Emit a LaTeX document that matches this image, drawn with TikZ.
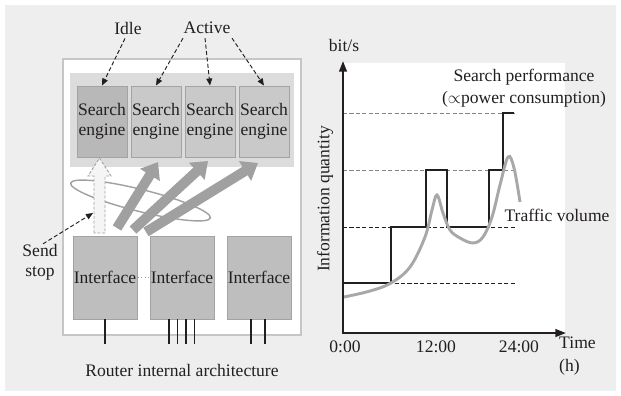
\documentclass[tikz,border=0pt]{standalone}
\usepackage{fontspec}
\setmainfont{Liberation Serif}
\usetikzlibrary{arrows.meta,calc}
\definecolor{panel}{HTML}{EEEEEE}
\definecolor{ink}{HTML}{231F20}
\definecolor{frame}{HTML}{C6C6C6}
\definecolor{tray}{HTML}{DCDCDC}
\definecolor{boxline}{HTML}{A3A3A3}
\definecolor{idlefill}{HTML}{B8B8B8}
\definecolor{actfill}{HTML}{C9C9C9}
\definecolor{iffill}{HTML}{BEBEBE}
\definecolor{flow}{HTML}{A0A0A0}
\definecolor{traffic}{HTML}{A8A8A8}
\begin{document}
\begin{tikzpicture}[x=0.03cm,y=-0.03cm,>={Triangle[length=6pt,width=5pt]},
  every node/.style={font=\fontsize{15}{17}\selectfont,text=ink,inner sep=0pt,align=center},
  engine/.style={draw=boxline,line width=0.8pt,fill=actfill,minimum width=1.5cm,minimum height=2.13cm},
  port/.style={draw=boxline,line width=0.8pt,fill=iffill,minimum width=1.92cm,minimum height=2.49cm},
  pointer/.style={ink,line width=0.8pt,dash pattern=on 3.5pt off 2pt,->},
  fat/.style={flow,line width=8.5pt,-{Triangle[length=13pt,width=19pt]}},
  wire/.style={ink,line width=1.6pt},
  guide/.style={line width=0.7pt,dash pattern=on 3.5pt off 2pt}]
\useasboundingbox (0,0) rectangle (621,396);
\fill[panel] (5,5) rectangle (616,391);
\draw[frame,line width=2.5pt,fill=white] (63,59) rectangle (301,335);
\fill[tray] (70,73) rectangle (294,167);
\node[engine,fill=idlefill] (e1) at (102,121.5) {Search\\engine};
\node[engine] (e2) at (156,121.5) {Search\\engine};
\node[engine] (e3) at (210,121.5) {Search\\engine};
\node[engine] (e4) at (264,121.5) {Search\\engine};
\node[port] (i1) at (105,277.5) {Interface};
\node[port] (i2) at (182,277.5) {Interface};
\node[port] (i3) at (259,277.5) {Interface};
\draw[boxline,line width=1pt,dotted] (i1) -- (i2);
\draw[wire] (i1.south) -- ++(0,25);
\foreach \dx in {-13,-4.5,4,12.5}
  \draw[wire] ([xshift=\dx*0.03cm]i2.south) -- ++(0,25);
\foreach \dx in {-8,6}
  \draw[wire] ([xshift=\dx*0.03cm]i3.south) -- ++(0,25);
\draw[flow,line width=1.2pt,rotate around={-14:(140.5,200.5)}] (140.5,200.5) ellipse [x radius=72,y radius=11];
\draw[boxline,line width=0.8pt,dash pattern=on 2.5pt off 1.5pt,fill=white!96!black] (94,233) -- (94,176) -- (88,176) -- (99.5,158) -- (111,176) -- (105,176) -- (105,233) -- cycle;
\coordinate (t1) at (117,228);
\coordinate (t2) at (133,230);
\coordinate (t3) at (146,232);
\coordinate (h1) at (158,162);
\coordinate (h2) at (208,161);
\coordinate (h3) at (258,163);
\draw[fat] (t1) -- (h1);
\draw[fat] (t2) -- (h2);
\draw[fat] (t3) -- (h3);
\node (idle) at (128,28) {Idle};
\node (act) at (207,28) {Active};
\draw[pointer] ($(idle.south)+(-3,4)$) -- (e1.north);
\draw[pointer] ($(act.south)+(-24,4)$) -- (e2.north);
\draw[pointer] ($(act.south)+(-2,4)$) -- (e3.north);
\draw[pointer] ($(act.south)+(25,4)$) -- (e4.north);
\node (send) at (40,262) {Send\\stop};
\coordinate (shaft) at (93,213);
\draw[pointer] ($(send.north)+(3,0)$) -- (shaft);
\node (cap) at (182,370) {Router internal architecture};
\fill[white] (343,63) rectangle (565,333);
\draw[guide,ink!55] (343,113) -- (515,113);
\draw[guide,ink!55] (343,170) -- (515,170);
\draw[guide,ink] (343,227) -- (515,227);
\draw[guide,ink] (343,283) -- (515,283);
\draw[ink,line width=2.4pt] (343,283) -| (391,227) -| (426,170) -| (447,227) -| (489,170) -| (503,113) -- (514,113);
\draw[traffic,line width=2.5pt] plot[smooth,tension=0.6] coordinates {(344,297) (370,291) (391,283) (410,267) (425,237) (432,210) (437,195) (443,213) (450,230) (460,238) (473,243) (483,237) (492,217) (500,185) (508,157) (514,168) (520,202)};
\draw[ink,line width=1.7pt,{Triangle[length=9pt,width=6.5pt]}-{Triangle[length=9pt,width=6.5pt]}] (343,61) -- (343,333) -- (566,333);
\node (ylab) at (344,45) {bit/s};
\node[rotate=90] (yname) at (325,199) {Information quantity};
\node (perf) at (524,88) [font=\fontsize{15}{19}\selectfont] {Search performance\\($\propto$power consumption)};
\node (vol) at (557,215) {Traffic volume};
\node (x0) at (345,347) {0:00};
\node (x12) at (436,347) {12:00};
\node (x24) at (519,347) {24:00};
\node[anchor=west,align=left,font=\fontsize{15}{19}\selectfont] (xname) at (559,356) {Time\\(h)};
\end{tikzpicture}
\end{document}
